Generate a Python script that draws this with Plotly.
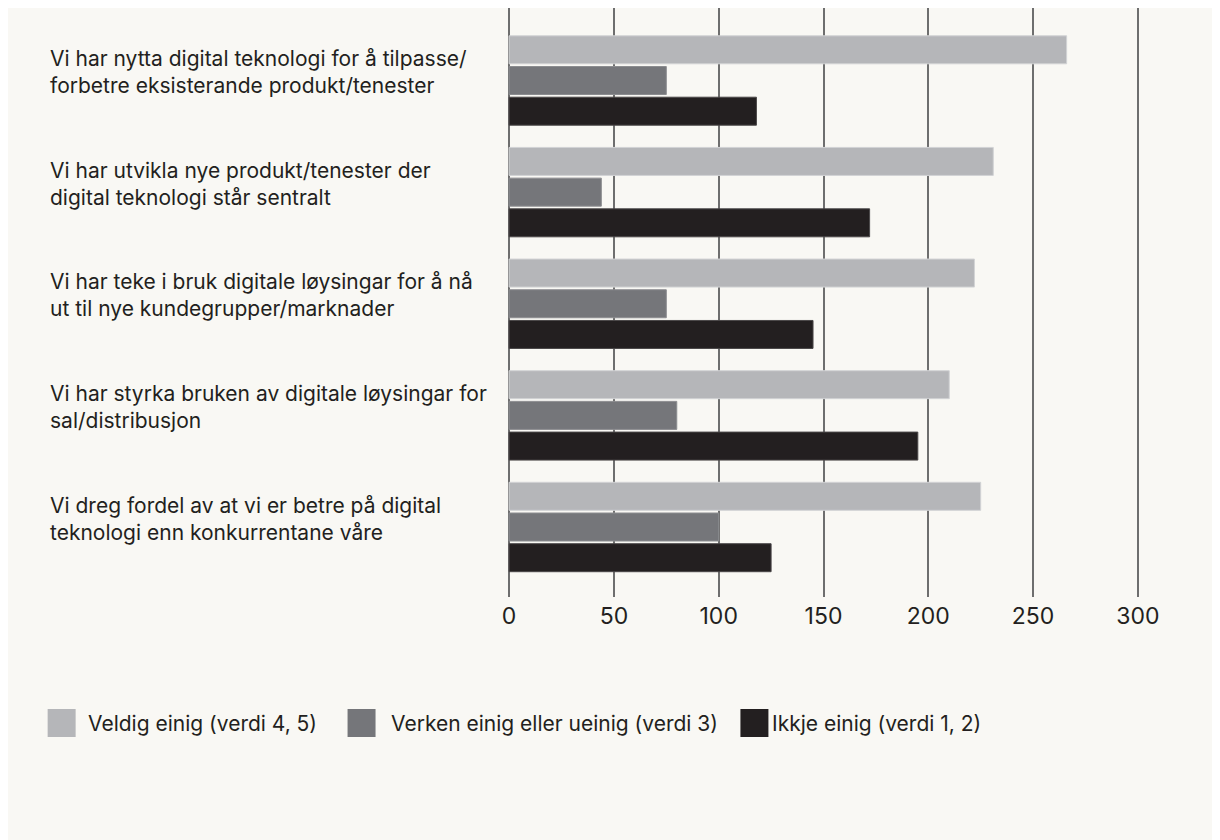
import plotly.graph_objects as go

categories = [
    "Vi har nytta digital teknologi for å tilpasse/<br>forbetre eksisterande produkt/tenester",
    "Vi har utvikla nye produkt/tenester der<br>digital teknologi står sentralt",
    "Vi har teke i bruk digitale løysingar for å nå<br>ut til nye kundegrupper/marknader",
    "Vi har styrka bruken av digitale løysingar for<br>sal/distribusjon",
    "Vi dreg fordel av at vi er betre på digital<br>teknologi enn konkurrentane våre",
]
series_names = [
    "Veldig einig (verdi 4, 5)",
    "Verken einig eller ueinig (verdi 3)",
    "Ikkje einig (verdi 1, 2)",
]
veldig_einig = [266, 231, 222, 210, 225]
verken = [75, 44, 75, 80, 100]
ikkje_einig = [118, 172, 145, 195, 125]
x_ticks = [0, 50, 100, 150, 200, 250, 300]

colors = ["#b5b6b9", "#75767a", "#231f20"]
edge_colors = ["#d2d3d5", "#8c8d90", "#4a4748"]
values = [veldig_einig, verken, ikkje_einig]

BG = "#f9f8f4"
TEXT = "#231f20"
FONT = "Inter"

# figure coordinates (page is offset by 8px body margin)
W, H = 1220, 840
L, R, T, B = 498.5, 88.3, 0, 251
PW, PH = W - L - R, H - T - B


def px(xp):
    return (xp - L) / PW


def py(yp):
    return (H - B - yp) / PH


fig = go.Figure()
for name, vals, c, ec in zip(series_names, values, colors, edge_colors):
    fig.add_trace(go.Bar(
        y=categories, x=vals, name=name, orientation="h",
        marker=dict(color=c, line=dict(color=ec, width=1)),
        showlegend=False,
    ))

annotations = []
for cat in categories:
    annotations.append(dict(
        x=px(39), xref="paper", y=cat, yref="y", text=cat,
        showarrow=False, xanchor="left", yanchor="middle", align="left",
        yshift=8.5, font=dict(family=FONT, size=21, color=TEXT),
    ))

shapes = []
legend_sq = [(39, 77), (339, 380), (732, 762)]
for (sx, tx), name, c in zip(legend_sq, series_names, colors):
    shapes.append(dict(type="rect", xref="paper", yref="paper",
                       x0=px(sx), x1=px(sx + 28), y0=py(701), y1=py(729),
                       fillcolor=c, line=dict(width=0)))
    annotations.append(dict(
        x=px(tx), xref="paper", y=py(715), yref="paper", text=name,
        showarrow=False, xanchor="left", yanchor="middle",
        font=dict(family=FONT, size=21, color=TEXT),
    ))

fig.update_layout(
    width=W, height=H,
    margin=dict(l=L, r=R, t=T, b=B, pad=0),
    paper_bgcolor=BG, plot_bgcolor=BG,
    barmode="group", bargap=0.175, bargroupgap=0.088,
    font=dict(family=FONT, size=21, color=TEXT),
    annotations=annotations, shapes=shapes,
    xaxis=dict(range=[-1, 301], tickvals=x_ticks, showgrid=True,
               gridcolor="#6e6e6e", gridwidth=1.5, zeroline=True,
               zerolinecolor="#6e6e6e", zerolinewidth=1.5, showline=False,
               ticks="", tickfont=dict(family=FONT, size=23, color=TEXT),
               ticklabelstandoff=3),
    yaxis=dict(range=[4.627, -0.6495], showticklabels=False, showgrid=False,
               zeroline=False, ticks=""),
)

fig.write_html("out.html")
